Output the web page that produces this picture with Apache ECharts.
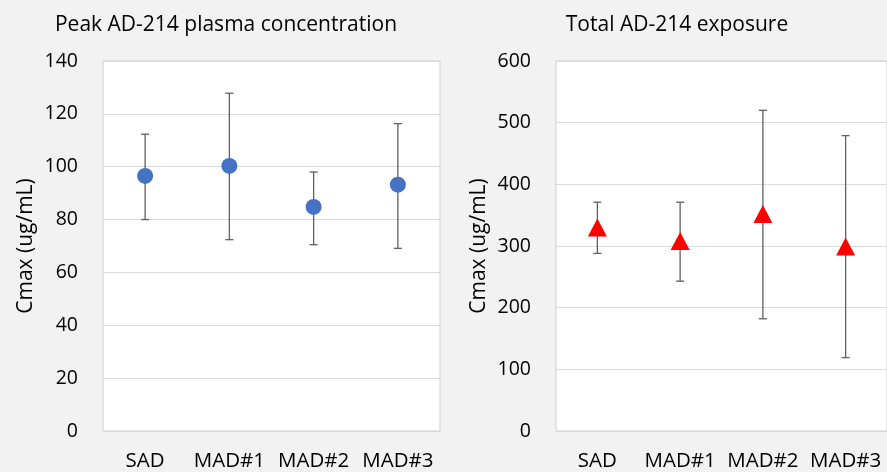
<!DOCTYPE html>
<html>
<head>
<meta charset="utf-8">
<script src="https://cdn.jsdelivr.net/npm/echarts@6/dist/echarts.min.js"></script>
<style>
html,body{margin:0;padding:0;background:#f2f2f2;}
#c{width:887px;height:472px;}
</style>
</head>
<body>
<div id="c"></div>
<script>
const categories = ['SAD', 'MAD#1', 'MAD#2', 'MAD#3'];
const peakMean = [96.5, 100.3, 84.8, 93.2];
const peakLow = [80.0, 72.4, 70.5, 69.1];
const peakHigh = [112.3, 127.8, 98.0, 116.3];
const expMean = [330, 308, 352, 299];
const expLow = [288, 243, 182, 119];
const expHigh = [371, 371, 520, 479];
const peakTicks = [0, 140, 20];
const expTicks = [0, 600, 100];
const titles = ['Peak AD-214 plasma concentration', 'Total AD-214 exposure'];
const yName = 'Cmax (ug/mL)';

const FONT = '"Open Sans"';
const chart = echarts.init(document.getElementById('c'), null, {renderer: 'canvas'});

function errData(low, high) {
  return categories.map((c, i) => [i, low[i], high[i]]);
}
function errRender(params, api) {
  const x = api.value(0);
  const lo = api.coord([x, api.value(1)]);
  const hi = api.coord([x, api.value(2)]);
  const w = 4;
  const style = {stroke: '#5f5f5f', lineWidth: 1.3};
  return {
    type: 'group',
    children: [
      {type: 'line', shape: {x1: lo[0], y1: lo[1], x2: hi[0], y2: hi[1]}, style},
      {type: 'line', shape: {x1: lo[0] - w, y1: lo[1], x2: lo[0] + w, y2: lo[1]}, style},
      {type: 'line', shape: {x1: hi[0] - w, y1: hi[1], x2: hi[0] + w, y2: hi[1]}, style}
    ]
  };
}
function xAxis(idx) {
  return {
    type: 'category', gridIndex: idx, data: categories,
    axisLine: {show: false}, axisTick: {show: false},
    axisLabel: {color: '#000', fontFamily: FONT, fontSize: 20.5, margin: 20, interval: 0}
  };
}
function yAxis(idx, t) {
  return {
    type: 'value', gridIndex: idx, min: t[0], max: t[1], interval: t[2],
    name: yName, nameLocation: 'middle', nameGap: 66,
    nameTextStyle: {color: '#000', fontFamily: FONT, fontSize: 21},
    axisLine: {show: false}, axisTick: {show: false},
    axisLabel: {color: '#000', fontFamily: FONT, fontSize: 19.5, margin: 25},
    splitLine: {lineStyle: {color: '#d9d9d9', width: 1}}
  };
}

chart.setOption({
  backgroundColor: '#f2f2f2',
  animation: false,
  title: [
    {text: titles[0], left: 221, top: 10, textAlign: 'center',
     textStyle: {color: '#000', fontFamily: FONT, fontSize: 21, fontWeight: 'normal'}},
    {text: titles[1], left: 672, top: 10, textAlign: 'center',
     textStyle: {color: '#000', fontFamily: FONT, fontSize: 21, fontWeight: 'normal'}}
  ],
  grid: [
    {left: 103, top: 61, width: 337, height: 372, show: true, backgroundColor: '#fff', borderColor: '#cfcfcf', borderWidth: 1},
    {left: 556, top: 61, width: 336, height: 372, show: true, backgroundColor: '#fff', borderColor: '#cfcfcf', borderWidth: 1}
  ],
  xAxis: [xAxis(0), xAxis(1)],
  yAxis: [yAxis(0, peakTicks), yAxis(1, expTicks)],
  series: [
    {type: 'custom', xAxisIndex: 0, yAxisIndex: 0, renderItem: errRender, data: errData(peakLow, peakHigh), z: 2},
    {type: 'scatter', xAxisIndex: 0, yAxisIndex: 0, data: peakMean, symbol: 'circle', symbolSize: 16,
     itemStyle: {color: '#4472c4', opacity: 1}, z: 3},
    {type: 'custom', xAxisIndex: 1, yAxisIndex: 1, renderItem: errRender, data: errData(expLow, expHigh), z: 2},
    {type: 'scatter', xAxisIndex: 1, yAxisIndex: 1, data: expMean, symbol: 'triangle', symbolSize: [19, 18],
     itemStyle: {color: '#ff0000', opacity: 1}, z: 3}
  ]
});
</script>
</body>
</html>
